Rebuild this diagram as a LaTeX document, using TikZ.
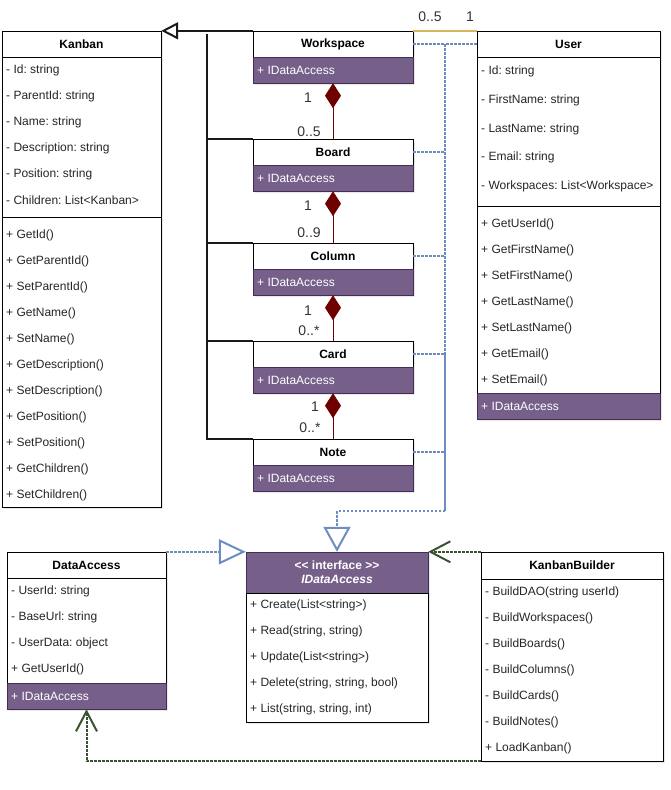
\documentclass[tikz,border=0pt]{standalone}
\usepackage{fontspec}
\setmainfont{Liberation Sans}
\usetikzlibrary{arrows.meta,shadows}
\frenchspacing
\definecolor{viola}{HTML}{76608A}
\definecolor{violascuro}{HTML}{432D57}
\definecolor{blu}{HTML}{6C8EBF}
\definecolor{verde}{HTML}{3A5431}
\definecolor{rosso}{HTML}{6F0000}
\definecolor{oro}{HTML}{D6B656}
\definecolor{nero}{HTML}{1A1A1A}
\begin{document}
\begin{tikzpicture}[x=1pt, y=-1pt,
    every node/.style={font=\fontsize{12}{14}\selectfont},
    ombra/.style={drop shadow={opacity=0.18, shadow xshift=2pt, shadow yshift=-2pt}},
    testa/.style={rectangle, draw, fill=white, minimum height=26pt, inner sep=0pt, ombra, font=\fontsize{12}{14}\selectfont\bfseries},
    corpo/.style={rectangle, draw, fill=white, inner sep=0pt, ombra},
    fascia/.style={rectangle, draw=violascuro, fill=viola, minimum height=26pt, inner sep=0pt, ombra},
    riga/.style={anchor=west, inner sep=0pt, text=black!85},
    rigab/.style={anchor=west, inner sep=0pt, text=white},
    molt/.style={inner sep=0pt, font=\fontsize{14}{16}\selectfont, text=black!80},
    eredita/.style={draw=nero, line width=2pt},
    compo/.style={draw=rosso, line width=1pt, -{Diamond[length=25pt,width=16pt]}},
    realizza/.style={draw=blu, line width=2pt, dash pattern=on 2.5pt off 1.5pt},
    dipende/.style={draw=verde, line width=2pt, dash pattern=on 2.5pt off 1.5pt, -{Straight Barb[length=20pt,width=21pt]}}]

    \useasboundingbox (0,0) rectangle (671,790);

    % Kanban
    \node (Kanban) at (81.5,44) [testa, minimum width=159pt] {Kanban};
    \node (KanbanCorpo) at (81.5,282) [corpo, minimum width=159pt, minimum height=450pt] {};
    \draw (2,217) -- (161,217);
    \foreach \t [count=\i] in {- Id: string, - ParentId: string, - Name: string, - Description: string, - Position: string, - Children: List<Kanban>}
        \node (KA\i) at (6,{44+26*\i}) [riga] {\t};
    \foreach \t [count=\i] in {+ GetId(), + GetParentId(), + SetParentId(), + GetName(), + SetName(), + GetDescription(), + SetDescription(), + GetPosition(), + SetPosition(), + GetChildren(), + SetChildren()}
        \node (KM\i) at (6,{209+26*\i}) [riga] {\t};

    % Classi figlie
    \node (Workspace) at (333,44) [testa, minimum width=160pt] {Workspace};
    \node (WorkspaceDA) at (333,70) [fascia, minimum width=160pt] {};
    \node (WorkspaceT) at (257,70) [rigab] {+ IDataAccess};
    \node (Board) at (333,152) [testa, minimum width=160pt] {Board};
    \node (BoardDA) at (333,178) [fascia, minimum width=160pt] {};
    \node (BoardT) at (257,178) [rigab] {+ IDataAccess};
    \node (Column) at (333,256) [testa, minimum width=160pt] {Column};
    \node (ColumnDA) at (333,282) [fascia, minimum width=160pt] {};
    \node (ColumnT) at (257,282) [rigab] {+ IDataAccess};
    \node (Card) at (333,354) [testa, minimum width=160pt] {Card};
    \node (CardDA) at (333,380) [fascia, minimum width=160pt] {};
    \node (CardT) at (257,380) [rigab] {+ IDataAccess};
    \node (Note) at (333,452) [testa, minimum width=160pt] {Note};
    \node (NoteDA) at (333,478) [fascia, minimum width=160pt] {};
    \node (NoteT) at (257,478) [rigab] {+ IDataAccess};

    % User
    \node (User) at (568.5,44) [testa, minimum width=183pt] {User};
    \node (UserCorpo) at (568.5,225) [corpo, minimum width=183pt, minimum height=336pt] {};
    \draw (477,206) -- (660,206);
    \foreach \t [count=\i] in {- Id: string, - FirstName: string, - LastName: string, - Email: string, - Workspaces: List<Workspace>}
        \node (UA\i) at (481,{42.6+28.8*\i}) [riga] {\t};
    \foreach \t [count=\i] in {+ GetUserId(), + GetFirstName(), + SetFirstName(), + GetLastName(), + SetLastName(), + GetEmail(), + SetEmail()}
        \node (UM\i) at (481,{198+26*\i}) [riga] {\t};
    \node (UserDA) at (568.5,406) [fascia, minimum width=183pt] {};
    \node (UserT) at (481,406) [rigab] {+ IDataAccess};

    % DataAccess
    \node (DataAccess) at (86.5,565) [testa, minimum width=159pt] {DataAccess};
    \node (DataAccessCorpo) at (86.5,630.5) [corpo, minimum width=159pt, minimum height=105pt] {};
    \foreach \t [count=\i] in {- UserId: string, - BaseUrl: string, - UserData: object, + GetUserId()}
        \node (DA\i) at (11,{565+26*\i}) [riga] {\t};
    \node (DataAccessDA) at (86.5,696) [fascia, minimum width=159pt] {};
    \node (DataAccessT) at (11,696) [rigab] {+ IDataAccess};

    % Interfaccia
    \node (IData) at (337,572.5) [fascia, minimum width=182pt, minimum height=41pt, align=center, text=white, font=\fontsize{12}{14}\selectfont\bfseries] {<{}< interface >{}>\\\textit{IDataAccess}};
    \node (IDataCorpo) at (337,657.5) [corpo, minimum width=182pt, minimum height=129pt] {};
    \foreach \t [count=\i] in {+ Create(List<string>), {+ Read(string, string)}, + Update(List<string>), {+ Delete(string, string, bool)}, {+ List(string, string, int)}}
        \node (IM\i) at (250,{579+26*\i}) [riga] {\t};

    % KanbanBuilder
    \node (Builder) at (572,565.5) [testa, minimum width=182pt, minimum height=27pt] {KanbanBuilder};
    \node (BuilderCorpo) at (572,670) [corpo, minimum width=182pt, minimum height=182pt] {};
    \foreach \t [count=\i] in {- BuildDAO(string userId), - BuildWorkspaces(), - BuildBoards(), - BuildColumns(), - BuildCards(), - BuildNotes(), + LoadKanban()}
        \node (BM\i) at (485,{566+26*\i}) [riga] {\t};

    % Ereditarieta
    \coordinate (T) at (207,34);
    \draw[eredita, -{Triangle[open, length=17pt, width=17pt]}] (Workspace.north west) -- (Kanban.north east);
    \draw[eredita] (T) |- (Note.north west);
    \draw[eredita] (Board.north west) -- (Board.north west -| T);
    \draw[eredita] (Column.north west) -- (Column.north west -| T);
    \draw[eredita] (Card.north west) -- (Card.north west -| T);

    % Composizione
    \draw[compo] (Board.north) -- (WorkspaceDA.south);
    \draw[compo] (Column.north) -- (BoardDA.south);
    \draw[compo] (Card.north) -- (ColumnDA.south);
    \draw[compo] (Note.north) -- (CardDA.south);
    \node (m1) at (308,98) [molt] {1};
    \node (m2) at (309,132) [molt] {0..5};
    \node (m3) at (308,206) [molt] {1};
    \node (m4) at (309,233) [molt] {0..9};
    \node (m5) at (308,311) [molt] {1};
    \node (m6) at (309,331) [molt] {0..*};
    \node (m7) at (315,407) [molt] {1};
    \node (m8) at (310,428) [molt] {0..*};

    % Associazione
    \draw[oro, line width=2pt] (Workspace.north east) -- (User.north west);
    \node (m9) at (430,17) [molt] {0..5};
    \node (m10) at (470,17) [molt] {1};

    % Realizzazione
    \coordinate (R) at (445,511);
    \draw[realizza] (User.west) -| (R);
    \draw[realizza] (Workspace.east) -| (R);
    \draw[realizza] (Board.east) -| (R);
    \draw[realizza] (Column.east) -| (R);
    \draw[realizza] (Card.east) -| (R);
    \draw[realizza] (Note.east) -| (R);
    \draw[realizza, -{Triangle[open, length=25pt, width=27pt]}] (R) -| (IData.north);
    \draw[realizza, -{Triangle[open, length=27pt, width=25pt]}] (DataAccess.north east) -- (IData.north west);

    % Dipendenze
    \draw[dipende] (Builder.north west) -- (IData.north east);
    \draw[dipende] (BuilderCorpo.south west) -| (DataAccessDA.south);
\end{tikzpicture}
\end{document}
